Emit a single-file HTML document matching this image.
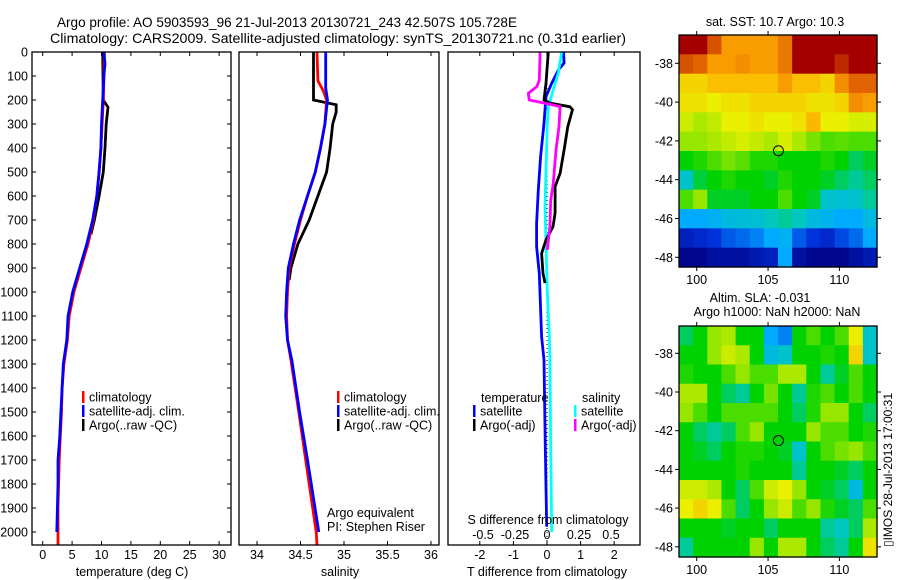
<!DOCTYPE html>
<html><head><meta charset="utf-8">
<style>
html,body{margin:0;padding:0;background:#fff;}
svg{display:block;font-family:"Liberation Sans",sans-serif;}
</style></head>
<body>
<svg id="fig" width="900" height="580" viewBox="0 0 900 580" xmlns="http://www.w3.org/2000/svg">
<rect x="0" y="0" width="900" height="580" fill="#fff"/>
<text x="57" y="27" font-size="14" textLength="460" lengthAdjust="spacingAndGlyphs">Argo profile: AO 5903593_96 21-Jul-2013 20130721_243 42.507S 105.728E</text>
<text x="50" y="43" font-size="14" textLength="576" lengthAdjust="spacingAndGlyphs">Climatology: CARS2009. Satellite-adjusted climatology: synTS_20130721.nc (0.31d earlier)</text>
<g id="p1"></g>
<g id="p2"></g>
<g id="p3"></g>
<g id="m1"></g>
<g id="m2"></g>
<text transform="translate(892,470) rotate(-90)" font-size="12" text-anchor="middle">▯IMOS 28-Jul-2013 17:00:31</text>
</svg>
<script>
// ---- data ----
const depthTicks = [0,100,200,300,400,500,600,700,800,900,1000,1100,1200,1300,1400,1500,1600,1700,1800,1900,2000];
const tempTicks = [0,5,10,15,20,25,30];
const salTicks = [34,34.5,35,35.5,36];
const salTickLabels = ["34","34.5","35","35.5","36"];
const tdiffTicks = [-2,-1,0,1,2];
const sdiffTicks = [-0.5,-0.25,0,0.25,0.5];
const sdiffTickLabels = ["-0.5","-0.25","0","0.25","0.5"];

const tClimDepth = [0,100,200,300,400,500,600,700,800,900,1000,1100,1200,1300,1400,1500,1600,1700,1800,1900,2000,2055];
const tClim = [10.5,10.4,10.3,10.1,9.9,9.6,9.2,8.6,7.7,6.5,5.3,4.5,4.2,3.6,3.3,3.2,3.0,2.8,2.7,2.6,2.6,2.6];
const tSatDepth = [0,50,100,200,300,400,500,600,700,800,900,1000,1100,1200,1300,1400,1500,1600,1700,1800,1900,2000];
const tSat = [10.4,10.6,10.4,10.2,10.0,9.9,9.6,9.2,8.5,7.5,6.3,5.1,4.3,4.1,3.5,3.3,3.1,2.9,2.6,2.6,2.5,2.4];
const tArgoDepth = [0,200,215,230,300,400,500,600,700,760];
const tArgo = [10.2,10.3,10.7,11.1,10.8,10.6,10.3,9.6,8.8,8.2];

const sClimDepth = [0,120,160,200,300,400,500,600,700,800,900,1000,1100,1200,1283,1500,1700,2000,2055];
const sClim = [34.69,34.70,34.76,34.80,34.78,34.73,34.67,34.58,34.50,34.43,34.37,34.35,34.34,34.35,34.39,34.48,34.56,34.68,34.69];
const sSatDepth = [0,150,200,300,400,500,600,700,800,900,1000,1100,1200,1283,1500,1700,2000];
const sSat = [34.79,34.79,34.81,34.78,34.73,34.67,34.58,34.49,34.42,34.36,34.34,34.33,34.35,34.40,34.49,34.58,34.71];
const sArgoDepth = [0,200,220,250,300,400,500,600,700,800,900,950];
const sArgo = [34.65,34.65,34.91,34.91,34.87,34.84,34.80,34.70,34.60,34.47,34.39,34.37];

const dtArgoDepth = [0,130,200,213,228,240,311,408,505,561,671,728,783,839,922,963];
const dtArgo = [0.04,-0.03,-0.09,0.09,0.68,0.76,0.62,0.51,0.39,0.24,0.24,0.18,-0.03,-0.16,-0.12,-0.06];
const dtSatDepth = [0,46,75,130,186,297,436,575,714,811,922,1186,1283,1645,1978];
const dtSat = [0.49,0.51,0.34,0.14,-0.03,-0.09,-0.19,-0.26,-0.31,-0.31,-0.23,-0.16,-0.09,-0.05,-0.01];
const dsArgoDepth = [0,117,144,172,200,221,228,311,408,547,617,728,825];
const dsArgo = [-0.054,-0.060,-0.080,-0.146,-0.138,0.049,0.102,0.094,0.070,0.049,0.029,0.023,0.002];
const dsSatDepth = [0,88,158,228,300,644,800,1000,1186,1283,1645,2000];
const dsSat = [0.115,0.088,0.049,0.010,0.002,-0.016,-0.008,0.002,0.018,0.023,0.029,0.037];

const mapLonTicks = [100,105,110];
const mapLatTicks = [-38,-40,-42,-44,-46,-48];
const argoLon = 105.728, argoLat = -42.507;
const sstGrid = [
[1.0,1.0,0.9,0.8,0.8,0.8,0.8,0.85,1.0,1.0,1.0,1.0,1.0,1.0],
[0.9,0.88,0.8,0.8,0.82,0.8,0.8,0.85,1.0,1.0,1.0,0.95,1.0,1.0],
[0.72,0.72,0.75,0.75,0.75,0.75,0.75,0.8,0.75,0.75,0.72,0.82,0.88,0.88],
[0.7,0.7,0.68,0.7,0.7,0.72,0.72,0.72,0.72,0.7,0.7,0.72,0.82,0.8],
[0.65,0.62,0.64,0.68,0.68,0.7,0.68,0.68,0.7,0.76,0.68,0.68,0.66,0.66],
[0.6,0.6,0.62,0.64,0.66,0.64,0.62,0.66,0.62,0.58,0.55,0.56,0.55,0.55],
[0.5,0.52,0.55,0.58,0.56,0.52,0.52,0.5,0.5,0.5,0.52,0.5,0.45,0.48],
[0.38,0.47,0.5,0.52,0.5,0.5,0.48,0.52,0.5,0.5,0.48,0.45,0.42,0.45],
[0.55,0.6,0.48,0.48,0.48,0.5,0.5,0.55,0.5,0.48,0.38,0.37,0.38,0.42],
[0.3,0.3,0.32,0.35,0.36,0.37,0.4,0.42,0.4,0.35,0.33,0.3,0.3,0.35],
[0.1,0.12,0.15,0.2,0.22,0.25,0.3,0.32,0.2,0.15,0.12,0.18,0.22,0.3],
[0.02,0.02,0.05,0.05,0.05,0.08,0.1,0.3,0.05,0.02,0.02,0.02,0.05,0.08]];
const slaGrid = [
[0.45,0.5,0.6,0.62,0.5,0.5,0.3,0.25,0.5,0.55,0.5,0.55,0.68,0.38],
[0.5,0.5,0.6,0.65,0.62,0.5,0.35,0.38,0.5,0.5,0.52,0.5,0.72,0.38],
[0.52,0.5,0.5,0.55,0.6,0.55,0.55,0.62,0.62,0.5,0.42,0.48,0.55,0.5],
[0.62,0.62,0.5,0.45,0.42,0.5,0.58,0.5,0.42,0.52,0.55,0.5,0.55,0.5],
[0.6,0.55,0.5,0.55,0.55,0.55,0.55,0.5,0.45,0.52,0.6,0.6,0.5,0.45],
[0.5,0.45,0.42,0.45,0.55,0.6,0.5,0.5,0.5,0.6,0.55,0.55,0.5,0.52],
[0.5,0.48,0.45,0.5,0.52,0.52,0.5,0.48,0.38,0.5,0.55,0.58,0.6,0.55],
[0.5,0.5,0.5,0.5,0.52,0.5,0.5,0.5,0.42,0.5,0.5,0.48,0.45,0.5],
[0.65,0.65,0.62,0.5,0.45,0.55,0.65,0.68,0.6,0.5,0.48,0.45,0.35,0.5],
[0.68,0.72,0.68,0.55,0.45,0.5,0.6,0.65,0.55,0.6,0.52,0.48,0.45,0.55],
[0.5,0.5,0.5,0.48,0.5,0.5,0.45,0.5,0.5,0.5,0.42,0.4,0.45,0.62],
[0.42,0.5,0.5,0.5,0.5,0.6,0.5,0.62,0.62,0.5,0.45,0.42,0.5,0.7]];

// ---- helpers ----
const NS = "http://www.w3.org/2000/svg";
function mk(parent, tag, attrs, txt){
  const e = document.createElementNS(NS, tag);
  for (const k in attrs) e.setAttribute(k, attrs[k]);
  if (txt !== undefined) e.textContent = txt;
  parent.appendChild(e); return e;
}
const yTop = 52, yBot = 545;
const yD = d => yTop + d*0.24;
const xT = t => 42.7 + t*5.88;
const xS = s => 257 + (s-34)*87;
const xDT = t => 547 + t*33.6;
const xDS = s => 547 + s*128;

function frame(g, x0, x1, name){
  const r = mk(g,'rect',{x:x0,y:yTop,width:x1-x0,height:yBot-yTop,fill:'none',stroke:'#000','stroke-width':1.3});
  
  
}
function line(g, xs, ds, fx, color, name, w){
  const pts = xs.map((v,i)=> fx(v).toFixed(1)+','+yD(ds[i]).toFixed(1)).join(' ');
  const p = mk(g,'polyline',{points:pts,fill:'none',stroke:color,'stroke-width':w||2.8,'stroke-linejoin':'miter'});
  
  
}
function legend(g, x, y, color, label, name){
  const m = mk(g,'rect',{x:x,y:y-6,width:2.5,height:12,fill:color});
  
  
  const t = mk(g,'text',{x:x+7,y:y+4.5,'font-size':12.5}, label);
  
  
}

// ---- panel 1 temperature ----
const p1 = document.getElementById('p1');
depthTicks.forEach(d=>{
  mk(p1,'line',{x1:32,x2:36,y1:yD(d),y2:yD(d),stroke:'#000'});
  mk(p1,'line',{x1:227,x2:231,y1:yD(d),y2:yD(d),stroke:'#000'});
  const t = mk(p1,'text',{x:28,y:yD(d)+4.5,'font-size':12.5,'text-anchor':'end'}, String(d));
  
  
});
tempTicks.forEach(v=>{
  mk(p1,'line',{x1:xT(v),x2:xT(v),y1:yTop,y2:yTop+4,stroke:'#000'});
  mk(p1,'line',{x1:xT(v),x2:xT(v),y1:yBot-4,y2:yBot,stroke:'#000'});
  const t = mk(p1,'text',{x:xT(v),y:559,'font-size':12.5,'text-anchor':'middle'}, String(v));
  
  
});
line(p1, tArgo, tArgoDepth, xT, '#000', 'temp-argo-line');
line(p1, tClim, tClimDepth, xT, '#f00', 'temp-climatology-line');
line(p1, tSat, tSatDepth, xT, '#00f', 'temp-satellite-line');
frame(p1, 32, 231, 'temperature-frame');
legend(p1, 82, 397, '#f00', 'climatology', 'legend-climatology');
legend(p1, 82, 411, '#00f', 'satellite-adj. clim.', 'legend-satellite');
legend(p1, 82, 425, '#000', 'Argo(..raw -QC)', 'legend-argo');
{const t = mk(p1,'text',{x:132,y:576,'font-size':12.5,'text-anchor':'middle'}, 'temperature (deg C)');
 }

// ---- panel 2 salinity ----
const p2 = document.getElementById('p2');
salTicks.forEach((v,i)=>{
  mk(p2,'line',{x1:xS(v),x2:xS(v),y1:yTop,y2:yTop+4,stroke:'#000'});
  mk(p2,'line',{x1:xS(v),x2:xS(v),y1:yBot-4,y2:yBot,stroke:'#000'});
  const t = mk(p2,'text',{x:xS(v),y:559,'font-size':12.5,'text-anchor':'middle'}, salTickLabels[i]);
  
  
});
line(p2, sArgo, sArgoDepth, xS, '#000', 'sal-argo-line');
line(p2, sClim, sClimDepth, xS, '#f00', 'sal-climatology-line');
line(p2, sSat, sSatDepth, xS, '#00f', 'sal-satellite-line');
frame(p2, 239, 439, 'salinity-frame');
legend(p2, 337, 397, '#f00', 'climatology', 'legend-climatology-2');
legend(p2, 337, 411, '#00f', 'satellite-adj. clim.', 'legend-satellite-2');
legend(p2, 337, 425, '#000', 'Argo(..raw -QC)', 'legend-argo-2');
{let t = mk(p2,'text',{x:327,y:517,'font-size':12.5}, 'Argo equivalent');
 
t = mk(p2,'text',{x:327,y:531,'font-size':12.5}, 'PI: Stephen Riser');
 
t = mk(p2,'text',{x:340,y:576,'font-size':12.5,'text-anchor':'middle'}, 'salinity');
 }

// ---- panel 3 differences ----
const p3 = document.getElementById('p3');
tdiffTicks.forEach(v=>{
  mk(p3,'line',{x1:xDT(v),x2:xDT(v),y1:yTop,y2:yTop+4,stroke:'#000'});
  mk(p3,'line',{x1:xDT(v),x2:xDT(v),y1:yBot-4,y2:yBot,stroke:'#000'});
  const t = mk(p3,'text',{x:xDT(v),y:559,'font-size':12.5,'text-anchor':'middle'}, String(v));
  
  
});
sdiffTicks.forEach((v,i)=>{
  const t = mk(p3,'text',{x:xDS(v),y:539,'font-size':12.5,'text-anchor':'middle'}, sdiffTickLabels[i]);
  
  
});
{const z = mk(p3,'line',{x1:xDT(0),x2:xDT(0),y1:yTop,y2:yBot,stroke:'#000','stroke-width':1,'stroke-dasharray':'1,3'});
 }
line(p3, dtSat, dtSatDepth, xDT, '#00f', 'tdiff-satellite-line');
line(p3, dsSat, dsSatDepth, xDS, '#0ff', 'sdiff-satellite-line');
line(p3, dtArgo, dtArgoDepth, xDT, '#000', 'tdiff-argo-line');
line(p3, dsArgo, dsArgoDepth, xDS, '#f0f', 'sdiff-argo-line');
frame(p3, 448, 640, 'difference-frame');
{let t = mk(p3,'text',{x:481,y:402,'font-size':12.5}, 'temperature');
 
t = mk(p3,'text',{x:582,y:402,'font-size':12.5}, 'salinity');
 }
legend(p3, 473, 411, '#00f', 'satellite', 'legend-t-satellite');
legend(p3, 473, 425, '#000', 'Argo(-adj)', 'legend-t-argo');
legend(p3, 574, 411, '#0ff', 'satellite', 'legend-s-satellite');
legend(p3, 574, 425, '#f0f', 'Argo(-adj)', 'legend-s-argo');
{let t = mk(p3,'text',{x:548,y:524,'font-size':12.5,'text-anchor':'middle'}, 'S difference from climatology');
 
t = mk(p3,'text',{x:547,y:576,'font-size':12.5,'text-anchor':'middle'}, 'T difference from climatology');
 }

// ---- maps ----
const stops = [[0,[0,0,130]],[0.15,[0,50,220]],[0.3,[0,170,255]],[0.4,[0,200,190]],[0.5,[0,210,0]],[0.6,[150,230,0]],[0.68,[235,240,0]],[0.78,[255,170,0]],[0.88,[225,100,0]],[1,[165,0,0]]];
function cmap(v){
  for (let i=1;i<stops.length;i++){
    if (v<=stops[i][0]){
      const a=stops[i-1], b=stops[i], f=(v-a[0])/(b[0]-a[0]);
      const c=a[1].map((x,k)=>Math.round(x+(b[1][k]-x)*f));
      return 'rgb('+c.join(',')+')';
    }
  }
  return 'rgb(165,0,0)';
}
const mx0=679, mx1=877;
const lonX = lon => 696.7 + (lon-100)*14.27;
function drawMap(gid, grid, y0, y1, latY, titles, nm){
  const g = document.getElementById(gid);
  const rows=grid.length, cols=grid[0].length;
  const cw=(mx1-mx0)/cols, ch=(y1-y0)/rows;
  grid.forEach((row,r)=>row.forEach((v,c)=>{
    const cell = mk(g,'rect',{x:(mx0+c*cw).toFixed(2),y:(y0+r*ch).toFixed(2),width:(cw+0.6).toFixed(2),height:(ch+0.6).toFixed(2),fill:cmap(v)});
    
    
  }));
  const f = mk(g,'rect',{x:mx0,y:y0,width:mx1-mx0,height:y1-y0,fill:'none',stroke:'#000','stroke-width':1.3});
  
  
  mapLonTicks.forEach(l=>{
    mk(g,'line',{x1:lonX(l),x2:lonX(l),y1:y0,y2:y0-4,stroke:'#000'});
    mk(g,'line',{x1:lonX(l),x2:lonX(l),y1:y1,y2:y1+4,stroke:'#000'});
    const t = mk(g,'text',{x:lonX(l),y:y1+17,'font-size':12.5,'text-anchor':'middle'}, String(l));
    
    
  });
  mapLatTicks.forEach(l=>{
    const y=latY(l);
    mk(g,'line',{x1:mx0,x2:mx0-4,y1:y,y2:y,stroke:'#000'});
    mk(g,'line',{x1:mx1,x2:mx1+4,y1:y,y2:y,stroke:'#000'});
    const t = mk(g,'text',{x:673,y:y+4.5,'font-size':12.5,'text-anchor':'end'}, String(l));
    
    
  });
  const c = mk(g,'circle',{cx:lonX(argoLon),cy:latY(argoLat),r:5,fill:'none',stroke:'#000','stroke-width':1});
  
  
  titles.forEach(tt=>{
    const t = mk(g,'text',{x:tt[0],y:tt[1],'font-size':12.5,'text-anchor':'middle'}, tt[2]);
    
    
  });
}
drawMap('m1', sstGrid, 35, 267, l=>63.3+(-38-l)*19.4, [[775,26,'sat. SST: 10.7 Argo: 10.3']], 'sst-map');
drawMap('m2', slaGrid, 326, 557, l=>353.3+(-38-l)*19.35, [[760,302,'Altim. SLA: -0.031'],[777,316,'Argo h1000: NaN h2000: NaN']], 'sla-map');
</script>
</body></html>
